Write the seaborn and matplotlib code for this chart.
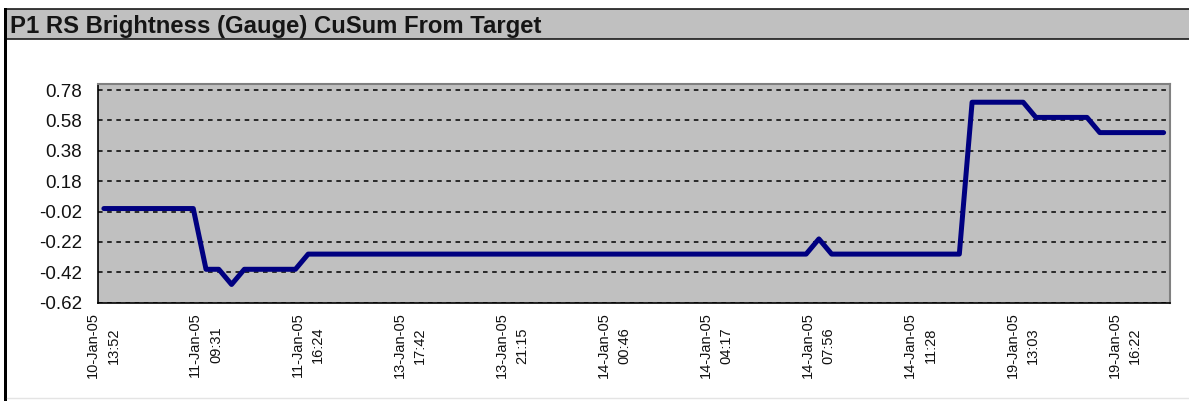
import numpy as np
import pandas as pd
import matplotlib
matplotlib.use("Agg")
import matplotlib.pyplot as plt
import matplotlib.transforms as mtransforms
from matplotlib.patches import Rectangle
import seaborn as sns

# ---------- Data ----------
TITLE = "P1 RS Brightness (Gauge) CuSum From Target"

cusum = [
    0.0, 0.0, 0.0, 0.0, 0.0, 0.0, 0.0, 0.0,
    -0.4, -0.4, -0.5, -0.4, -0.4, -0.4, -0.4, -0.4,
    -0.3, -0.3, -0.3, -0.3, -0.3, -0.3, -0.3, -0.3,
    -0.3, -0.3, -0.3, -0.3, -0.3, -0.3, -0.3, -0.3,
    -0.3, -0.3, -0.3, -0.3, -0.3, -0.3, -0.3, -0.3,
    -0.3, -0.3, -0.3, -0.3, -0.3, -0.3, -0.3, -0.3,
    -0.3, -0.3, -0.3, -0.3, -0.3, -0.3, -0.3, -0.3,
    -0.2, -0.3, -0.3, -0.3, -0.3, -0.3, -0.3, -0.3,
    -0.3, -0.3, -0.3, -0.3, 0.7, 0.7, 0.7, 0.7,
    0.7, 0.6, 0.6, 0.6, 0.6, 0.6, 0.5, 0.5,
    0.5, 0.5, 0.5, 0.5,
]

# one timestamp label every 8 samples
time_labels = [
    "10-Jan-05\n13:52", "11-Jan-05\n09:31", "11-Jan-05\n16:24",
    "13-Jan-05\n17:42", "13-Jan-05\n21:15", "14-Jan-05\n00:46",
    "14-Jan-05\n04:17", "14-Jan-05\n07:56", "14-Jan-05\n11:28",
    "19-Jan-05\n13:03", "19-Jan-05\n16:22",
]
LABEL_EVERY = 8

y_ticks = [0.78, 0.58, 0.38, 0.18, -0.02, -0.22, -0.42, -0.62]

df = pd.DataFrame({"sample": np.arange(len(cusum)), "cusum": cusum})

# ---------- Theme ----------
sns.set_style("white")
plt.rcParams["font.family"] = ["Liberation Sans", "DejaVu Sans"]

PLOT_BG = "#c0c0c0"
LINE = "#000080"

W, H = 1189, 401
fig = plt.figure(figsize=(W / 100, H / 100), dpi=100)
fig.patch.set_facecolor("white")

# ---------- Frame (pixel coordinates) ----------
frame = fig.add_axes([0, 0, 1, 1], zorder=-1)
frame.set_xlim(0, W)
frame.set_ylim(H, 0)
frame.axis("off")
frame.add_patch(Rectangle((5, 8.5), W, 30, facecolor=PLOT_BG, edgecolor="#1a1a1a", lw=1.2))
frame.add_patch(Rectangle((3.5, 8), 3.5, H, facecolor="black", edgecolor="none"))
frame.plot([7, W], [397.5, 397.5], color="#e4e4e4", lw=1)
frame.text(10, 32.5, TITLE, fontsize=17.2, fontweight="bold", color="#151515",
           ha="left", va="baseline")

# ---------- Line chart ----------
ax = fig.add_axes([97.5 / W, 1 - 302.7 / H, (1170 - 97.5) / W, (302.7 - 84) / H])
ax.set_facecolor(PLOT_BG)
sns.lineplot(data=df, x="sample", y="cusum", ax=ax, color=LINE, linewidth=3.6)

ax.set_xlim(-0.5, len(cusum) - 0.5)
ax.set_ylim(-0.62, 0.82)
ax.set_yticks(y_ticks)
ax.set_yticklabels([f"{v:.2f}" for v in y_ticks])
ax.set_xticks(np.arange(len(time_labels)) * LABEL_EVERY - 0.5)
ax.set_xticklabels(time_labels, rotation=90, ha="center", va="top",
                   multialignment="center", linespacing=1.6)
ax.set_xlabel("")
ax.set_ylabel("")

ax.yaxis.grid(True, color="black", linestyle=(0, (3, 3)), linewidth=1.1)
ax.xaxis.grid(False)
ax.set_axisbelow(True)

for side in ("left", "bottom"):
    ax.spines[side].set_color("black")
    ax.spines[side].set_linewidth(1.2)
for side in ("top", "right"):
    ax.spines[side].set_color("#808080")
    ax.spines[side].set_linewidth(1.5)

ax.tick_params(axis="y", direction="inout", length=6, width=1, pad=8,
               labelsize=13.5, colors="#111111")
ax.tick_params(axis="x", direction="inout", length=6, width=1, pad=4,
               labelsize=10.5, colors="#111111")

shift = mtransforms.ScaledTranslation(6 / 100, 0, fig.dpi_scale_trans)
for lab in ax.get_xticklabels():
    lab.set_transform(lab.get_transform() + shift)

fig.savefig("out.png", dpi=100)
plt.close(fig)
